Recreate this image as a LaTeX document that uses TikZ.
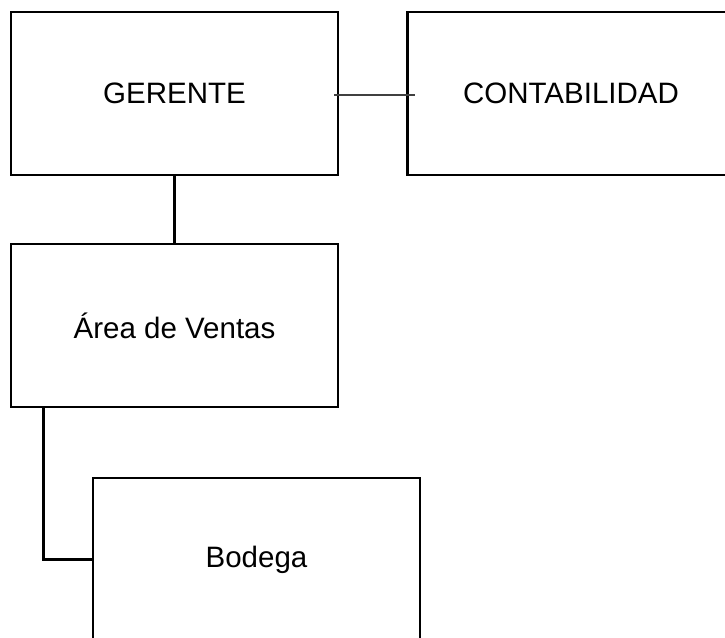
\documentclass[tikz,border=0pt]{standalone}
\usepackage{fontspec}
\setmainfont{Liberation Sans}
\begin{document}
\begin{tikzpicture}[x=1pt,y=-1pt,
  box/.style={draw,line width=2.2pt,minimum width=327pt,minimum height=163pt,inner sep=0pt,outer sep=0pt,font=\fontsize{29.5}{35}\selectfont},
  link/.style={line width=2.2pt},
  thinlink/.style={line width=1.2pt,draw=black!75}]
\useasboundingbox (0,0) rectangle (725,637);
\clip (0,0) rectangle (725,637);
\node[box] (g) at (174.5,93.5) {GERENTE};
\node[box] (c) at (571,93.5) {CONTABILIDAD};
\node[box] (a) at (174.5,325.5) {Área de Ventas};
\node[box] (b) at (256.5,559.5) {Bodega};
\draw[thinlink] ([xshift=-4pt,yshift=-1.5pt]g.east) -- ([xshift=7pt,yshift=-1.5pt]c.west);
\draw[link] (g.south) -- (a.north);
\draw[link] ([xshift=32.5pt]a.south west) |- (b.west);
\end{tikzpicture}
\end{document}
